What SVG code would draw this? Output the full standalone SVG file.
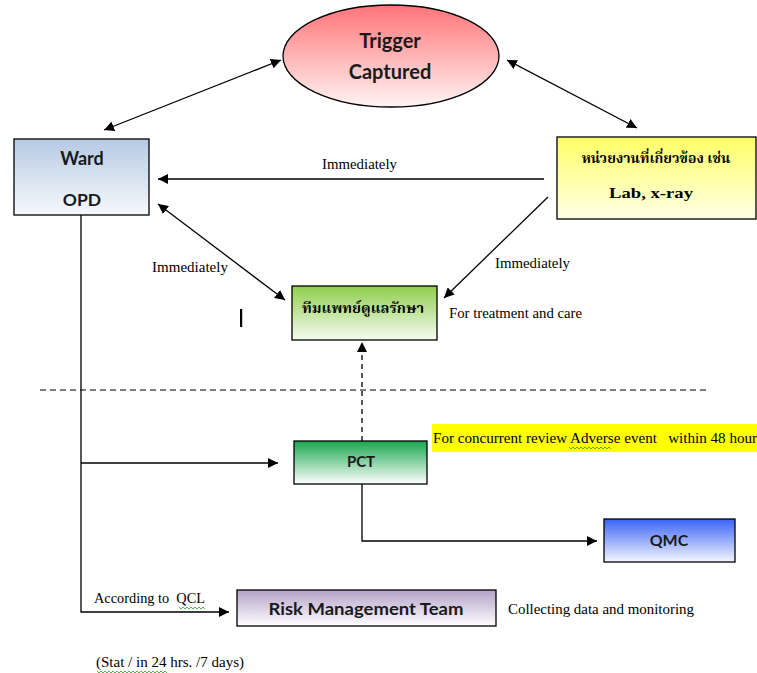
<svg xmlns="http://www.w3.org/2000/svg" width="757" height="673" viewBox="0 0 757 673">
<defs>
<linearGradient id="gRed" x1="0" y1="0" x2="0" y2="1"><stop offset="0" stop-color="#ff7478"/><stop offset="1" stop-color="#fff4f4"/></linearGradient>
<linearGradient id="gBlueL" x1="0" y1="0" x2="0" y2="1"><stop offset="0" stop-color="#b6cae3"/><stop offset="1" stop-color="#f6f9fc"/></linearGradient>
<linearGradient id="gYel" x1="0" y1="0" x2="0" y2="1"><stop offset="0" stop-color="#ffff66"/><stop offset="1" stop-color="#ffffe6"/></linearGradient>
<linearGradient id="gLime" x1="0" y1="0" x2="0" y2="1"><stop offset="0" stop-color="#8fce4c"/><stop offset="1" stop-color="#f6fbf2"/></linearGradient>
<linearGradient id="gGreen" x1="0" y1="0" x2="0" y2="1"><stop offset="0" stop-color="#1aa64e"/><stop offset="1" stop-color="#ffffff"/></linearGradient>
<linearGradient id="gBlue" x1="0" y1="0" x2="0" y2="1"><stop offset="0" stop-color="#3a63f5"/><stop offset="1" stop-color="#f4f6ff"/></linearGradient>
<linearGradient id="gPurp" x1="0" y1="0" x2="0" y2="1"><stop offset="0" stop-color="#b3a2c7"/><stop offset="1" stop-color="#ffffff"/></linearGradient>
<marker id="ah" viewBox="0 0 10 10" refX="10" refY="5" markerWidth="10" markerHeight="10" markerUnits="userSpaceOnUse" orient="auto-start-reverse"><path d="M0,0 L10,5 L0,10 z" fill="#000"/></marker>
</defs>
<style>
.box{stroke:#000;stroke-width:1.3}
.bt{font-family:Lato,"Open Sans","Liberation Sans",sans-serif;font-weight:bold;fill:#1a1a1a;text-anchor:middle}
.st{font-family:"Liberation Serif","Noto Serif Thai","Noto Sans Thai",serif;fill:#000;font-size:14px}
.th{font-family:"Liberation Serif","Noto Serif Thai","Noto Sans Thai","DejaVu Sans",serif;font-weight:bold;fill:#000;text-anchor:middle}
.ln{stroke:#000;stroke-width:1.3;fill:none}
.sq{stroke:#2aa02a;stroke-width:0.8;fill:none}
</style>

<g id="trigger">
<ellipse class="box" cx="391" cy="56" rx="108" ry="51" fill="url(#gRed)"/>
<text class="bt" x="390" y="48" font-size="20">Trigger</text>
<text class="bt" x="390" y="79" font-size="20">Captured</text>
</g>

<g id="ward">
<rect class="box" x="14" y="139" width="135" height="76" fill="url(#gBlueL)"/>
<text class="bt" x="82" y="165" font-size="18">Ward</text>
<text class="bt" x="82" y="206" font-size="17.5">OPD</text>
</g>

<g id="related-units">
<rect class="box" x="557" y="137" width="199" height="82" fill="url(#gYel)"/>
<text class="th" x="656" y="163" font-size="14">หน่วยงานที่เกี่ยวข้อง เช่น</text>
<text class="th" x="651" y="198" font-size="14" textLength="84" lengthAdjust="spacingAndGlyphs">Lab, x-ray</text>
</g>

<g id="medical-team">
<rect class="box" x="292" y="286" width="145" height="54" fill="url(#gLime)"/>
<text class="th" x="363" y="313" font-size="14.5">ทีมแพทย์ดูแลรักษา</text>
</g>

<g id="pct">
<rect class="box" x="294" y="441" width="133" height="43" fill="url(#gGreen)"/>
<text class="bt" x="361" y="467" font-size="15">PCT</text>
</g>

<g id="qmc">
<rect class="box" x="604" y="519" width="131" height="43" fill="url(#gBlue)"/>
<text class="bt" x="669" y="546" font-size="16">QMC</text>
</g>

<g id="risk">
<rect class="box" x="237" y="590" width="259" height="36" fill="url(#gPurp)"/>
<text class="bt" x="366" y="615" font-size="17.5" font-weight="600" textLength="195" lengthAdjust="spacingAndGlyphs">Risk Management Team</text>
</g>

<g id="connectors">
<line class="ln" x1="281" y1="60" x2="104" y2="130" marker-start="url(#ah)" marker-end="url(#ah)"/>
<line class="ln" x1="507" y1="60" x2="637" y2="128" marker-start="url(#ah)" marker-end="url(#ah)"/>
<line class="ln" x1="544" y1="179" x2="158" y2="179" marker-end="url(#ah)"/>
<line class="ln" x1="158" y1="204" x2="285" y2="300" marker-start="url(#ah)" marker-end="url(#ah)"/>
<line class="ln" x1="548" y1="197" x2="444" y2="298" marker-end="url(#ah)"/>
<line class="ln" x1="362" y1="441" x2="362" y2="342" stroke-dasharray="5,4" marker-end="url(#ah)"/>
<polyline class="ln" points="81,215 81,612 229,612" marker-end="url(#ah)"/>
<line class="ln" x1="81" y1="463" x2="278" y2="463" marker-end="url(#ah)"/>
<polyline class="ln" points="362,484 362,541 597,541" marker-end="url(#ah)"/>
<line x1="40" y1="390" x2="706" y2="390" stroke="#000" stroke-width="1.2" stroke-dasharray="6,4"/>
</g>

<g id="labels">
<text class="st" x="322" y="169" textLength="75" lengthAdjust="spacingAndGlyphs">Immediately</text>
<text class="st" x="152" y="272" textLength="76" lengthAdjust="spacingAndGlyphs">Immediately</text>
<text class="st" x="495" y="268" textLength="75" lengthAdjust="spacingAndGlyphs">Immediately</text>
<text class="st" x="449" y="318" textLength="133" lengthAdjust="spacingAndGlyphs">For treatment and care</text>
<rect x="432" y="424" width="325" height="28" fill="#ffff00"/>
<text class="st" x="433" y="443" xml:space="preserve" textLength="330" lengthAdjust="spacingAndGlyphs">For concurrent review Adverse event   within 48 hours</text>
<text class="st" x="94" y="603" xml:space="preserve" textLength="111" lengthAdjust="spacingAndGlyphs">According to  QCL</text>
<text class="st" x="508" y="614" textLength="186" lengthAdjust="spacingAndGlyphs">Collecting data and monitoring</text>
<text class="st" x="96" y="667" textLength="148" lengthAdjust="spacingAndGlyphs">(Stat / in 24 hrs. /7 days)</text>
<rect x="240" y="309" width="2.2" height="18" fill="#000"/>
<path class="sq" d="M569,447 l2,2 l2,-2 l2,2 l2,-2 l2,2 l2,-2 l2,2 l2,-2 l2,2 l2,-2 l2,2 l2,-2 l2,2 l2,-2 l2,2 l2,-2 l2,2 l2,-2 l2,2 l2,-2 l2,2"/>
<path class="sq" d="M179,607 l2,2 l2,-2 l2,2 l2,-2 l2,2 l2,-2 l2,2 l2,-2 l2,2 l2,-2 l2,2 l2,-2 l2,2"/>
<path class="sq" d="M97,671 l2,2 l2,-2 l2,2 l2,-2 l2,2 l2,-2 l2,2 l2,-2 l2,2 l2,-2 l2,2 l2,-2 l2,2 l2,-2 l2,2 l2,-2 l2,2 l2,-2 l2,2 l2,-2 l2,2 l2,-2 l2,2 l2,-2 l2,2 l2,-2 l2,2 l2,-2 l2,2 l2,-2 l2,2 l2,-2 l2,2 l2,-2 l2,2"/>
</g>
</svg>
